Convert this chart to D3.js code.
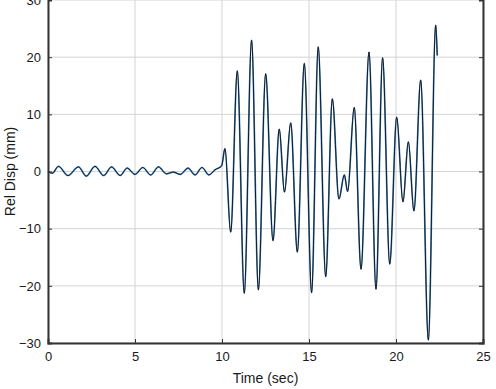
<!DOCTYPE html>
<html>
<head>
<meta charset="utf-8">
<script src="https://cdn.jsdelivr.net/npm/d3@7"></script>
<style>
  body { margin: 0; background: #fff; }
  svg { display: block; font-family: "Liberation Sans", Arial, sans-serif; }
</style>
</head>
<body>
<svg id="chart" width="496" height="389"></svg>
<script>
// peaks and troughs of the response (sec, mm)
const timeSec = [
  0, 0.25, 0.6, 1.15, 1.75, 2.2, 2.7, 3.2, 3.65, 4.15, 4.55, 5.0, 5.45, 5.9, 6.35,
  6.8, 7.2, 7.6, 8.05, 8.45, 8.85, 9.25, 9.6, 9.98,
  10.17, 10.5, 10.88, 11.28, 11.7, 12.09, 12.51, 12.93, 13.29, 13.59, 13.95,
  14.33, 14.73, 15.15, 15.53, 15.96, 16.34, 16.72, 17.03, 17.22, 17.6, 17.99,
  18.45, 18.85, 19.23, 19.64, 20.04, 20.4, 20.71, 21.03, 21.42, 21.86, 22.28, 22.37
];
const relDisp = [
  0, -0.3, 0.9, -0.7, 0.8, -0.8, 0.9, -0.7, 0.8, -0.7, 0.6, -0.5, 0.7, -0.6, 0.8,
  -0.4, -0.1, -0.5, 0.6, -0.6, 0.7, -0.6, 0.3, 1.0,
  4.0, -10.6, 17.6, -21.3, 23.0, -20.7, 17.1, -12.1, 7.4, -3.6, 8.5,
  -14.1, 18.9, -21.2, 21.8, -18.4, 12.7, -4.8, -0.6, -3.5, 11.2, -17.1,
  20.9, -20.6, 19.9, -16.2, 9.5, -5.3, 5.2, -6.9, 16.0, -29.5, 25.6, 20.3
];
const xTicks = [0, 5, 10, 15, 20, 25];
const yTicks = [-30, -20, -10, 0, 10, 20, 30];

const svg = d3.select("#chart");
const plotL = 48, plotR = 483, plotT = 0, plotB = 343;

const x = d3.scaleLinear().domain([0, 25]).range([plotL, plotR]);
const y = d3.scaleLinear().domain([-30, 30]).range([plotB, plotT]);

// grid
svg.append("g")
  .selectAll("line")
  .data(xTicks)
  .join("line")
  .attr("x1", d => x(d)).attr("x2", d => x(d))
  .attr("y1", plotT).attr("y2", plotB)
  .attr("stroke", "#d4d4d4").attr("stroke-width", 1);

svg.append("g")
  .selectAll("line")
  .data(yTicks)
  .join("line")
  .attr("x1", plotL).attr("x2", plotR)
  .attr("y1", d => y(d)).attr("y2", d => y(d))
  .attr("stroke", "#d4d4d4").attr("stroke-width", 1);

// data line: blue trace with a thin dark one over it
const pts = timeSec.map((t, i) => [t, relDisp[i]]);
const line = d3.line()
  .x(d => x(d[0]))
  .y(d => y(d[1]))
  .curve(d3.curveMonotoneX);

svg.append("path")
  .datum(pts)
  .attr("d", line)
  .attr("fill", "none")
  .attr("stroke", "#4a8ac4")
  .attr("stroke-width", 1.7);

svg.append("path")
  .datum(pts)
  .attr("d", line)
  .attr("fill", "none")
  .attr("stroke", "#0a0f14")
  .attr("stroke-width", 0.9);

// axes (ticks inward, MATLAB-like box)
const xAxis = d3.axisBottom(x).tickValues(xTicks).tickSize(-4).tickPadding(9);
const yAxis = d3.axisLeft(y).tickValues(yTicks).tickSize(-4).tickPadding(7);

const gx = svg.append("g").attr("transform", `translate(0,${plotB})`).call(xAxis);
const gy = svg.append("g").attr("transform", `translate(${plotL},0)`).call(yAxis);
const gr = svg.append("g").attr("transform", `translate(${plotR},0)`)
  .call(d3.axisRight(y).tickValues(yTicks).tickSize(-4).tickFormat(""));

[gx, gy, gr].forEach(g => {
  g.select(".domain").attr("stroke", "#333").attr("stroke-width", 2);
  g.selectAll(".tick line").attr("stroke", "#333");
  g.selectAll(".tick text")
    .attr("fill", "#1a1a1a")
    .attr("font-size", "13px")
    .attr("font-family", "Liberation Sans, Arial, sans-serif");
});

svg.append("text")
  .attr("x", (plotL + plotR) / 2)
  .attr("y", 383)
  .attr("text-anchor", "middle")
  .attr("font-size", "14px")
  .attr("fill", "#1a1a1a")
  .text("Time (sec)");

svg.append("text")
  .attr("transform", `translate(15,${(plotT + plotB) / 2}) rotate(-90)`)
  .attr("text-anchor", "middle")
  .attr("font-size", "14px")
  .attr("fill", "#1a1a1a")
  .text("Rel Disp (mm)");
</script>
</body>
</html>
